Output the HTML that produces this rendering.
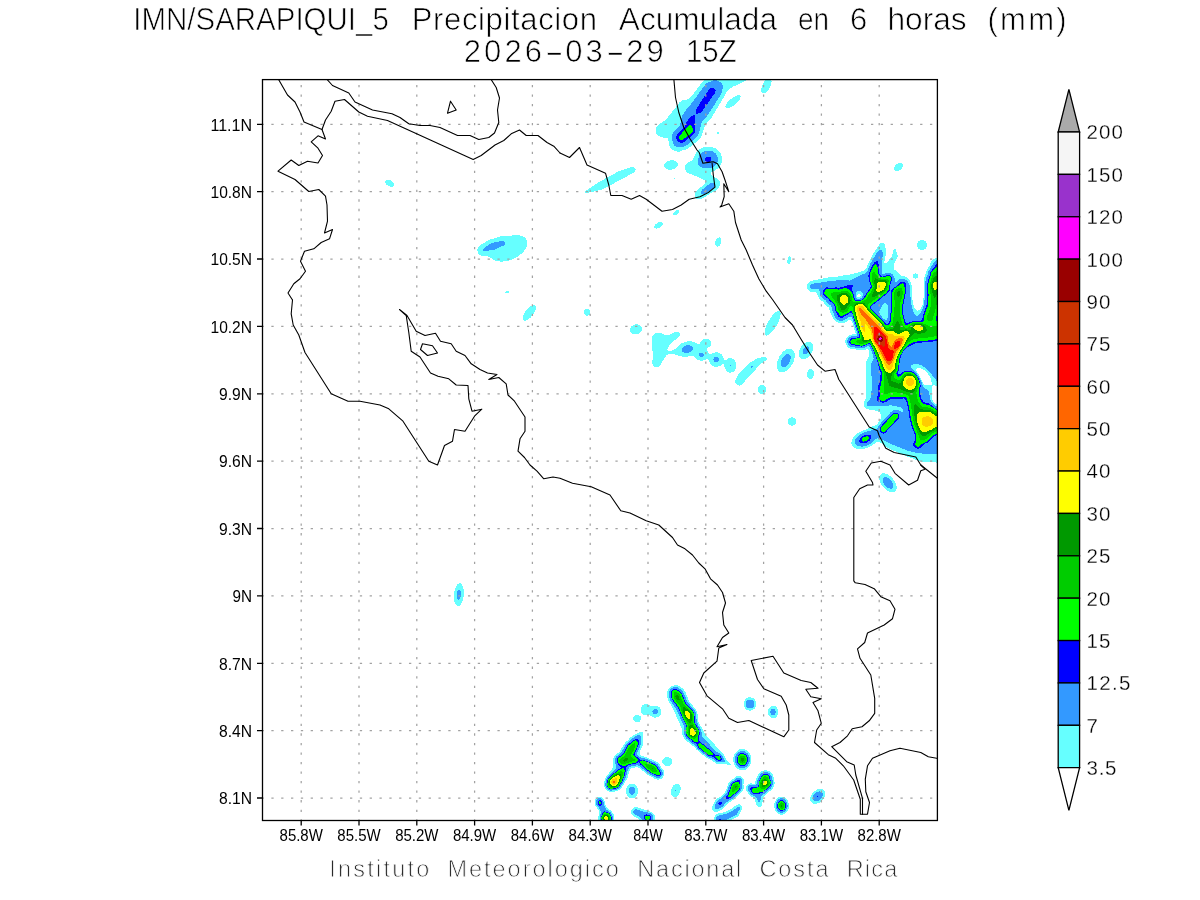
<!DOCTYPE html>
<html lang="es"><head><meta charset="utf-8"><title>IMN/SARAPIQUI_5 Precipitacion Acumulada en 6 horas (mm)</title>
<style>html,body{margin:0;padding:0;background:#fff}svg{display:block}text{font-family:"Liberation Sans",sans-serif;fill:#000}text{stroke:#fff;stroke-linejoin:round}.t{font-size:31px;stroke-width:.7px}.f{font-size:23.5px;fill:#2a2a2a;stroke-width:.8px}.a{font-size:16px;stroke:none}.c{font-size:20.5px;stroke-width:.3px}.g{stroke:#a2a2a2;stroke-width:1.25;fill:none}.gv{stroke-dasharray:2.3 7.236}.gh{stroke-dasharray:2.3 7.53}.k{stroke:#000;stroke-width:1.3;fill:none}.m{stroke:#000;stroke-width:1.1;fill:none;stroke-linejoin:round;stroke-linecap:round}</style></head><body>
<svg width="1200" height="900" viewBox="0 0 1200 900">
<rect width="1200" height="900" fill="#fff"/>
<defs><clipPath id="cp"><rect x="262.5" y="79.6" width="674.9" height="740.9"/></clipPath></defs>
<g clip-path="url(#cp)" shape-rendering="crispEdges">
<path fill="#66ffff" fill-rule="evenodd" d="M745.6 76 746.1 77 746.4 78 746.3 79 746 80 745 81.2 743.6 82 733 86.6 729 89.3 727 91.1 726 92.8 724 97 711.3 118 706.9 123 704.5 127 701.8 135 700.3 138 698 140.5 688 148.5 686 149.5 683 150.3 680 151.5 677 151.6 674 150.8 672.7 150 671.5 149 669.9 147 668.8 144 668.4 140 668 139 667 138 666 137.7 662 137.4 660 136.8 658 135.6 656.5 134 655.7 132 655.6 130 656.1 128 657.4 126 659 124.5 664.1 121 666.3 119 669.7 115 679.9 102 681 101.1 683 100.1 687 99.5 688 99.2 690 97.8 693 94.3 702 82.2 703.2 81 705 79.6 708.6 78 711 76.6 714 75.7 716 75.7 719 76.3 721 77.2 724 79.1 726 79.6 728 79.3 742 74.7 743 74.6 744 74.9ZM770 78.3 771 79 771.4 80 771.6 81 771.3 84 770.2 87 768.3 90 766 92.3 764 93.2 762.7 93 762 92.5 761.6 92 761.2 90 761.6 87 762.8 84 764 82 766 79.7 768 78.4 769 78.1ZM740 95.2 740.6 96 740.7 97 739.9 99 738.6 101 736 103.7 733 106 730 107.7 728 108.3 727 108.4 725.9 108 725.4 107 725.5 106 725.8 105 727.8 102 730 99.7 733 97.4 736 95.7 738 95.1 739 95ZM718 131.8 719 132.6 719.2 133 719 134.1 718 134.7 717 134.1 716.8 133 717 132.6ZM712 147.1 714 147.7 716 148.7 718.9 151 720 152.4 721 154 722 157 722.3 159 721.9 162 721.3 164 720.1 166 718.4 168 717 169.2 715 170.4 711.9 172 710.8 173 711 174 713 176.2 714.1 177 717 178.3 719.1 180 719.8 181 720.2 182 720.3 183 720.1 185 719.8 186 719 187.2 716.3 190 715 190.9 711 193.1 701.5 199 700 199.5 698 199.3 697 198.9 696 198.2 695.1 197 694.5 195 694.9 193 695.4 192 696.3 191 704.5 184 705.3 183 705.7 182 705.4 181 703 179.5 698 177 690 173.9 687 172.3 685.8 171 684.8 169 684.7 167 684.9 166 686 164.1 687 163.2 691 161.1 692.3 160 693.6 158 695 155 696.1 153 697.6 151 700 149 703 147.5 706 146.8 709 146.6ZM664.1 165 664.4 164 665 163.1 666.1 162 668 160.9 671 160.2 673 160.2 675.5 161 677 162.2 677.5 163 677.8 164 677.8 165 677.5 166 676.8 167 675.8 168 674 169.1 671 169.8 668 169.6 666 168.8 665 168 664.4 167 664.1 166ZM902 163.1 902.7 164 902.9 165 902.8 166 902 167.9 901.1 169 900 170 898 171.1 896 171.3 895 171 894.1 170 893.9 169 894 168 894.9 166 895.7 165 897 163.9 899 162.9 901 162.7ZM635 168 635.5 169 635.6 170 635 171.4 634 172.3 622 179.1 602 189.5 601 189.9 587.3 193 585 193.3 584.6 193 584.5 192 585.6 191 598 182.6 618 171.6 632 166.9 633 166.8 634 167.1ZM673.2 178 674 177.8 675.1 178 675 178.3 674 179ZM385.1 181 386 180 387 179.7 389 179.8 391 180.7 392.7 182 393.5 183 394 184 394.1 185 393.6 186 393 186.5 392 186.8 391 186.8 389 186.3 388 185.8 386 184.2 385.2 183 384.9 182ZM679 210.2 679.3 211 679.1 212 678.5 213 677.5 214 676 215 675 215.4 674 215.4 673.4 215 673.2 214 673.6 213 675 211.3 677 210.1 678 209.9ZM662.6 223 662.7 224 662.4 225 661.7 226 660 227.5 659 228 657 228.6 656 228.6 655 228.4 654.5 228 654 227 654.2 226 655 224.8 657 223.1 659 222.2 660 222 661 222 662 222.4ZM527.2 241 527.4 242 527.5 244 526.7 247 524.9 250 522.3 253 519 255.7 515 258.1 510.5 260 506 261.2 501 261.7 497 261.2 493.7 260 492.2 259 490 257.1 489 256.7 487 256.4 484 256.5 482 256.1 480 255.1 479 254.2 478.1 253 477.4 251 477.5 249 477.7 248 479 246 480.1 245 490 239.6 502 235.9 504 235.7 509 235.9 513 235.3 516 235.1 520 235.5 523 236.5 525 237.8 526.2 239ZM720 237.6 721 238.6 721.4 240 721.5 241 721.1 243 720 245 719 246 718 246.5 717 246.5 716 246.1 715.3 245 715 243 715.4 241 716.6 239 717.6 238 719 237.4ZM921 240 923 240 925 240.9 926.1 242 927 244 927 246 926.1 248 925 249.1 923 250 921 250 919 249.1 917.9 248 917 246 917 244 917.9 242 919 240.9ZM881 243.1 882 243 883 243.1 884 243.6 885 244.8 885.4 246 885.9 254 884.2 262 884.3 263 885 263.7 886 263.1 887 262.2 891.7 257 892.4 255 892.9 251 893.3 250 894 249.1 895 248.9 896 249.9 897.5 255 897.7 256 897.6 257 895.5 261 894.2 264 893.6 266 893.5 268 894 269.1 897 271.8 900 275 901 275.5 905 276.6 907 277.7 908.6 279 909.9 281 911.6 285 911.9 286 912.3 298 912.6 301 913.1 304 914 306.8 915 308.6 916 309.8 917 310.5 918 310.7 919 310.3 920 309.5 921 308.2 922.4 305 923.1 302 923.6 297 923.8 293 923.7 284 924.1 278 925.3 275 926.3 271 930 264.7 931.1 262 932.7 260 934 259 936 258.1 938 257.9 940 258.1 942 259 944 260.7 945 262.3 945 304.7 944.3 312 944.3 313 944.6 314 945 314.5 945 439 944.6 440 944.6 441 945 443.5 945 460.7 944 461.5 942 462.4 941 462.6 939 462.6 923 462 921 461.6 904 455.2 891 449.5 886 447.1 882 443.5 881 442.9 879 442 878 441.9 877 442 876 442.5 872 445.4 870 446.5 866 448.2 863 448.9 859 449.2 856 448.6 854 447.7 853 447 852.2 446 851.4 444 851.3 443 851.6 441 852.4 439 853 438 855.6 435 858 433.1 861 431.3 863 430.4 868 428.7 872 426.5 876 425.1 877 424.2 878.9 422 880.2 420 881.1 418 881.3 417 881.1 415 880.3 413 879.4 412 877.2 411 872 409.8 869 409.5 867 409 866 408.5 865 407.6 864 406 863.6 405 863.6 403 864.3 401 866.2 398 866.4 397 866.3 385 865.8 374 865.8 365 866.1 363 866.6 361 869.1 356 869.3 354 868.8 351 868 349.1 867 349 865 349.9 863 350.3 862 350.3 851 348.8 849 347.9 847.7 347 846.2 345 845.5 343 845.4 341 845.6 340 846.4 338 848 336.1 850 334.9 851 334.6 855.5 334 855.5 333 855 331 852 321.9 851 320 850 319.7 848 320.4 847 321.3 845 322.4 842 323.1 839 322.9 838 322.6 836 321.5 834.3 320 832.9 318 832 315.7 830.1 312 829 307.8 827 306.3 825.6 305 823.4 302 821 300.4 819.6 299 818.3 297 816.8 293 816 292.3 815 292.1 812 292 810 291.4 808.3 290 807.2 288 807 286 807.5 284 808.1 283 809 282 811 280.9 829 277.4 836 276.8 844 275.4 849 274.8 856.2 273 865 270.1 866 268.8 868.3 263 874.8 251 879.6 244ZM917 368.2 916.2 369 916.2 370 916.6 371 919.6 376 923 382.9 924 384.2 925 385 927 385.5 929 385.4 931.6 385 931.9 384 931.8 383 930.8 379 929.5 376 927.3 373 925 370.8 922 368.9 919 368 918 367.9ZM933 385.1 932.2 386 931.8 395 932.2 399 932.9 401 934.5 403 936 403.9 937 404.1 938 404 939.2 403 939.8 402 940.3 400 940.4 396 939.8 392 938.7 389 938 387.7 937 386.5 936 385.8 935 385.3ZM860 294.3 859 293.9 858 294.2 857.4 295 857.2 296 857.6 297 858 297.3 859 297.5 860 297 860.5 296 860.5 295ZM790 256.1 790.6 257 790.8 258 790.9 259 790.7 261 790 263 789 264.3 788 264.3 787.4 263 787.3 262 787.6 259 788 257.8 789 256.4ZM913.1 275 913.8 274 915 273.4 916 273.4 917 273.7 918.2 275 918.4 276 918.1 277 917.2 278 916 278.5 915 278.5 914 278.2 912.9 277 912.8 276ZM505 292 506 291.2 507 291 508.1 291 509 291.4 509.7 292 509 293 507 293.3 505.7 293ZM757.9 296 758 295.8 759 296 758 296.5ZM535 305.2 535.7 306 536 306.9 535.8 309 534.7 312 533 314.7 531 317.1 528 319.6 526 320.6 525 320.9 524 320.8 523 320 522.7 319 522.8 317 523.9 314 525.8 311 528 308.4 531 306 533 305.1 534 305ZM586 309 587 308.8 588.2 309 589.7 310 590.3 311 590.5 312 590.4 313 590.1 314 589.2 315 588 315.6 587 315.7 586 315.5 585 315 584.1 314 583.7 313 583.6 312 584 310.7 585 309.5ZM779 311 780 311.6 780.5 313 780.5 315 779.6 319 777.5 324 774.4 329 771 333 769 334.7 768 335.3 767 335.6 766 335.6 765 335 764.6 334 764.5 333 764.6 331 765.7 327 767.9 322 771 317.2 774 313.7 776 312 777 311.4 778 311.1ZM631 327 632 325.9 634 324.7 636 324.2 638 324.4 639.6 325 641 326.2 641.8 328 641.8 330 640.8 332 639 333.5 637 334.3 635 334.4 633 334 631.5 333 630.7 332 630.2 331 630.1 329ZM652.5 336 653.1 335 654 334 655.6 333 657 332.6 658 332.5 660 332.8 665 335.1 667 335.4 670 334.4 676 331.6 677 331.5 678 331.8 679 332.5 679.8 334 679.8 335 679.5 336 679 336.8 671.3 343 670 344.3 668.8 346 667.5 349 667.4 350 668 350.5 669 350.8 672 350.6 674 349.8 676.3 348 678.1 346 680 344.4 682 343.1 685 342 687 341.5 689 341.3 692 341.4 695 342.3 699 344.6 700 343.6 700.6 342 701.3 341 703 339.5 705 338.8 707 338.8 708 339 709.7 340 710.6 341 711.1 342 711.3 343 711 344.9 710.4 346 709.3 347 707.6 348 706.5 349 706.8 350 708.1 352 709 353.9 710 354.6 713 353 715 352.4 717 352.3 719 352.8 721 354 722 355 723.2 357 724 360.1 725 360.8 727 359.2 729 358.2 731 358 733 358.7 734 359.5 735 360.6 736.1 363 736.4 366 736 368 735 370 734 371.2 733 371.9 731 372.6 729 372.5 727 371.4 725.8 370 724.8 368 723.9 364 723 363.6 721.4 365 720 365.9 718 366.7 716 366.9 714 366.6 712 365.6 710.4 364 709.3 362 708.7 360 708 358.7 707 358.9 705 359.9 703 360.5 700 360.6 698 360 696.3 359 695.2 358 694 356.5 693 355.7 692 355.7 687 356.7 684 356.8 681 356.3 674 354.2 672 354 669 354.2 666.8 355 664 359 659.7 366 659 366.6 658 367.1 656 367.3 655 367 654 366.4 653 365.2 652.5 364 652.4 363 652.7 355 651.9 339 652 337.4ZM736 335.5 736 334.9 736.9 335ZM811 342.4 812.4 344 812.8 345 813.2 347 813 349 812.6 351 811.1 354 809 356.7 808 357.5 806 358.7 804 359.3 803 359.3 802 359.1 801 358.6 799.6 357 799.1 356 798.8 354 798.9 352 799.4 350 800.9 347 803 344.3 804 343.5 806 342.3 808 341.7 809 341.7 810 341.9ZM792 349.1 793.1 350 794 351.3 794.6 353 794.8 355 794.7 357 794.4 359 793.4 362 792.4 364 791.2 366 789.7 368 788 369.7 786 371.2 785 371.8 783 372.4 781 372.4 780 372.1 779 371.5 777.8 370 777 368 776.8 366 776.9 364 777.5 361 779.2 357 780.4 355 782 352.9 784 350.9 786 349.5 788 348.7 789 348.5 791 348.7ZM766 357.1 766.8 358 766.9 359 766.3 360 760.5 364 755.1 370 750.1 375 742 384.6 741 385.3 740 385.5 739 385.6 737.2 385 736 384 735.4 383 735.1 382 735.1 381 735.3 380 737.8 375 738.5 374 743.3 369 749 363.3 757 358.6 758 358.2 765 356.8ZM811 368.8 812 369.1 813.1 370 814 372 814.1 374 813.6 376 813 377.3 812 378.4 811 379 810 379.2 809 378.9 807.9 378 807 376 806.9 374 807.4 372 808 370.7 809 369.6 810 369ZM761 385 762 384.9 763 385.1 764 385.5 765 386.3 766 388 766.1 390 765.9 391 765.4 392 764.4 393 763 393.8 762 393.9 761 393.8 759.3 393 758.4 392 757.9 391 757.7 390 757.9 388 758.3 387 759.1 386 760 385.4ZM790 417.8 791 417.4 792 417.3 793 417.4 794 417.8 795 418.6 795.9 420 796.2 421 796.2 422 795.9 423 795 424.4 794 425.2 793 425.6 792 425.7 791 425.6 790 425.2 789 424.4 788.1 423 787.8 422 787.8 421 788.1 420 789 418.6ZM881 474 882 473.5 884 473.3 885 473.5 887 474.2 890 476 893.1 479 894.5 481 895.6 483 896.6 486 896.8 488 896.7 489 896 490.8 895 491.8 894 492.3 892 492.5 891 492.4 889 491.7 887 490.6 885 489 882.3 486 880.5 483 879.7 481 879.3 479 879.3 477 879.5 476 880 475ZM460 583.3 461 583.7 462 584.7 463.1 587 463.6 589 463.9 591 463.9 595 463.2 599 462.6 601 461.7 603 461 604.1 460 605.3 459 605.9 458 606.1 457 605.8 456 605 455 603.4 454.5 602 453.8 598 453.9 594 454.6 590 456 586.4 457 584.8 458 583.9 459 583.3ZM670.4 687 672 686 674 685.4 677 685.4 678 685.6 680 686.5 683 688.9 684.8 691 685.8 693 688.9 701 692 704.9 695.6 709 696.8 711 697.4 713 698 718.7 698.6 722 700 724.9 702.5 729 704 732.5 705.9 735 720.4 751 723.4 754 724.1 755 726.5 760 727.4 761 730.9 764 731.2 765 731 765.2 730 765.2 724 763.9 718 764.2 716 763.6 711.2 760 708 758.6 705 756.5 697 750.1 693.4 746 691 744.8 690 744 688.1 742 686 740.5 684.5 739 683.3 737 682.6 735 682.2 733 682 730 681 726.7 673.6 710 671 705 668.5 701 667.4 698 667.1 694 667.5 691 668.5 689ZM748 697.6 749 697.4 751 697.4 753 698.1 754 698.8 755 699.8 756.1 702 756.4 703 756.4 705 755.7 707 755.1 708 754 709.2 752 710.4 751 710.6 749 710.6 747 709.9 746 709.2 745 708.2 743.9 706 743.6 705 743.6 703 744.3 701 744.9 700 746 698.8ZM641.3 707 642 705.9 643 705 644 704.4 646 704 648 704.4 651 705.9 652 706 655 705.5 657 705.8 658 706.2 659.2 707 660.1 708 660.7 709 661.3 711 661.2 713 660.3 715 659.4 716 658 717 656 717.6 654 717.5 653 717.2 650 715.4 649 715.1 646 715.2 644 714.9 642.4 714 641.6 713 641.1 712 640.8 711 640.7 709ZM773 705.6 774 705.7 775 706.1 776.2 707 777.6 709 777.9 710 778.1 712 777.9 714 777.6 715 776.2 717 775 717.9 774 718.3 773 718.4 772 718.3 771 717.8 770 717.1 769.1 716 768.2 714 768 712 768.2 710 769.1 708 770 706.9 771 706.2 772 705.7ZM636 715.1 638 714.9 639 715.2 640.2 716 640.9 717 641.1 718 641.1 719 640.8 720 640 721.2 639 721.9 638 722.3 636 722.3 635 721.9 633.9 721 633.3 720 633.1 719 633.1 718 633.5 717 634.3 716ZM642 731.9 643 733 643.2 734 642.9 737 643.4 740 643.3 744 642.7 746 641 749.2 639.5 753 639.5 754 640.1 755 641 755.8 644 756.3 656 761.4 658.4 763 659.3 764 661 766.9 663.4 770 663.9 771 664.3 773 664.3 774 663.7 776 662.2 778 661 778.9 659 779.6 657 779.6 655 778.9 651.8 777 649 775.8 639.4 768 638 767.3 637 767.2 632.2 768 631 768.6 630 769.9 629 771.9 627.4 778 622.7 786 621.3 788 620.4 789 618 790.7 615 791.6 611 792 609 791.6 608 791.2 606 789.6 605.5 789 604.4 787 604.1 786 604 784 604.4 781 604.9 779 605.9 777 609.9 772 611.9 769 613 766.9 613.5 765 613.2 762 613.2 760 613.6 758 614.1 757 615.5 755 619 752.2 620 751.1 623.5 745 624.9 743 628.1 740 630 737.8 635 734.4 637 733.6 640 731.6 641 731.5ZM742 748.9 744 749.1 746 749.8 747 750.4 748.8 752 749.5 753 750.6 755 751.2 757 751.5 759 751.4 761 750.7 764 749.7 766 748 768 746 769.4 745 769.8 743 770.3 741 770.2 739 769.5 737 768.2 736 767.2 735.1 766 734.1 764 733.5 762 733.3 760 733.4 758 733.8 756 734.7 754 736 752 737 751 739 749.7 740 749.3ZM663.2 759 664.3 758 666 757.2 668 757.1 670 757.8 671.5 759 672.1 760 672.4 761 672.4 762 672.1 763 671 764.7 670 765.4 669 765.9 667 766.1 665 765.6 664 765 663 764 662.5 763 662.3 762 662.3 761 662.6 760ZM767 770.4 769 771.1 770.4 772 771.5 773 772.9 775 773.6 777 773.8 779 774.4 781 774.6 783 774.4 785 773.7 787 772 789.6 770 791.2 768 792.3 766 794.5 764 796.1 763.3 797 763.1 798 762.1 805 761.5 806 761 806.4 760 806.9 759 806.9 758 806.6 757.2 806 756.5 805 755 799.8 754 798 751 796.5 750 795.7 749 794.5 748.1 793 747.2 792 746.5 791 746 789 746.2 787 746.7 786 747.5 785 749 783.9 751 783.3 754 783.8 755 783.3 755.2 783 755.3 782 756.1 780 756.6 778 757.8 775 759 773.2 760 772.2 761 771.5 763 770.6 765 770.3ZM742 777.2 742.8 778 743.5 779 744 781 744 782 743.4 784 743.8 786 743.7 788 743 790 741.7 792 739.4 794 734 799.4 727 804 724.8 807 723 808.7 719 810.9 718 811.7 717 812.1 716 812.2 715 812 714 811.6 713.2 811 712.4 810 712 809 711.9 808 712 807 714.9 801 715.6 800 716.7 799 721 796.2 725.2 792 727 787.6 728.2 784 729.2 782 731 780.2 734 778.6 735.6 777 737 776.2 738 776 740 776.2 741 776.5ZM632 783.6 634 784 635 784.6 636.4 786 637.5 788 637.8 789 638 791 637.8 793 637.5 794 636.3 796 635 797.3 634 797.9 632 798.3 630 797.9 629 797.3 627.7 796 626.5 794 626.2 793 626 791 626.2 789 626.5 788 627.6 786 629 784.6 630 784ZM678 783.8 679 784.4 679.6 785 680.2 786 680.5 787 680.7 789 680.1 792 679 794.2 678 795.4 677 796.3 676 796.8 675 797.1 674 797.1 673 796.8 672 796 671 794 670.7 792 671.3 789 672.2 787 674 784.9 675 784.2 676 783.8 677 783.7ZM823.6 790 824.4 791 824.9 792 825.2 794 824.5 797 823.4 799 822.6 800 820 802.3 817 803.6 815 803.9 814 803.8 813 803.5 812 802.9 811.2 802 810.6 801 810.3 800 810.3 798 810.5 797 811.3 795 813 792.7 815 790.9 817 789.7 818 789.3 820 789 822 789.2ZM599 796.7 600 796.6 602 797.3 603 798.1 603.8 799 604.7 801 605.5 805 607 807.8 608 808.9 611 810.8 612 811.9 612.8 813 613.8 815 614.2 817 614.3 819 614 821 613.3 823 612 824.9 611 825.9 610 826.7 608 827.6 607 827.7 605 827.7 604 827.4 602 826.3 601 825.5 599.8 824 599.3 823 598.5 821 598.2 818 598.5 816 599.2 813 599.2 812 598 809.2 595.4 806 594.7 804 594.6 803 594.8 801 595.7 799 597 797.6ZM781 796.5 783 796.7 785 797.5 786.6 799 787.4 800 788.4 802 788.9 805 788.9 807 788.4 809 787 811.7 785 813.7 783 814.5 782 814.7 780 814.5 778 813.5 776.4 812 775.7 811 774.8 809 774.2 806 774.5 803 775.3 801 776 799.7 777 798.5 778 797.7 780 796.7ZM741.9 806 742.3 807 742.5 808 742.3 809 739 815 738.3 816 737 817 729 821 723 824.5 721 825.3 719 825.3 717 824.6 716 823.9 714.5 822 714.2 821 714 819 714.4 817 715.8 815 717 814 718 813.5 725 812 732 808.5 736.4 805 738 804.3 739 804.2 740 804.5 741 805ZM631.5 810 632.1 809 633.2 808 634 807.5 636 807.1 637 807.2 645.4 810 648 810.6 651 811.8 652.9 813 653.9 814 654.6 815 655 816 655.4 818 655.3 819 654.6 821 653.9 822 652.9 823 652 823.6 650 824.5 649 824.6 647 824.6 646 824.5 644 823.7 643 823 640 819.9 639 819.2 633 815.9 632.1 815 631.5 814 631.2 813 631.2 811Z"/>
<path fill="#3399ff" fill-rule="evenodd" d="M719 81.2 720.2 82 722.1 84 722.7 85 723 86 723.1 87 722.9 88 722.4 89 721.5 93 720.6 95 707 116.3 703 120.5 701 124.4 699 133 698.2 135 697.6 136 695.7 138 687 145.1 685 146.3 683 146.9 678 147.1 676 146.7 675 146.1 674 145 673.5 144 673 142 672.6 141 672 139 672 136 672.5 134 674 131.6 679.5 126 680 125.2 681.7 117 682.7 115 686.7 109 692 102.8 704.1 86 706 83.8 708 82.5 711 81.6 713 80.6 715 80.1 717 80.3ZM703 151.9 705 151 707 150.6 709 150.5 712 151.2 713.7 152 715.1 153 716 154 717.3 156 717.6 157 718 159 717.8 161 717.5 162 716.4 164 715.6 165 714 166.4 712 167.4 710 168 708 168.3 706 168.4 703.5 168 701 167.1 699.3 166 698.4 165 697.9 163 697.9 161 698.1 159 698.7 157 699.7 155 701 153.4ZM715 183.6 715.2 184 715.3 185 714.6 187 713.7 188 705 193.5 702 194.2 700.8 194 700.4 193 700.7 192 702 189.9 706 186.8 710 183.3 711 182.6 712 182.5 714 182.8ZM505 243 505 244 504 245.3 494 249.9 486 250.9 484 250.8 483 250.4 482.8 250 483.3 249 485.5 247 491 243.2 492 242.8 498 241.7 503 241 504 241.5 504.6 242ZM811 284.3 812 283.8 830 281.1 844 279.8 847 280.1 850 280.7 854 278.2 863 274.2 865 273.6 866 273 867 271.7 868 269.5 870.1 264 876 254.2 878 251.4 880 250.1 881 250 882 250.9 882.9 253 883 254 881.6 262 881.5 266 881.7 273 883 273.9 884 273.8 886 272.8 888 272.5 890 272.9 892 273.9 893.2 275 894.3 277 894.7 279 894.8 281 895 282.1 896 282 899 279.6 900 279.1 902 278.7 904 278.9 905 279.2 906.3 280 907.4 281 908.1 282 910.1 286 910.1 291 910.7 300 911.5 305 913.3 312 914 313.5 916 315.6 917 316 918 315.8 919 315.1 921 312.5 923 308 924 305 924.8 297 925 294 925.1 285 925.7 279 926 278 927.4 275 928.2 272 932.3 265 933.2 263 933.9 262 935 261.1 937 260.3 939 260.3 940.9 261 942.1 262 942.8 263 943.5 265 943.4 267 943.9 272 944.3 274 945 282.6 945 288.1 943.8 295 942.2 308 941.3 313 941.1 315 941.2 316 941.7 317 943 318 945 319 945 344.2 944.3 345 944.1 346 944.5 347 945 347.6 945 401.4 944 398.8 942.4 391 941.4 388 940.6 386 938.7 383 935 378.9 930.6 373 928 370.1 926 368.3 923 366.2 920 364.8 917 364 915 363.9 913 364.3 911.7 365 911 366 910.9 367 911.4 368 916 372.5 918.5 376 920.6 380 923 386.4 924 387.9 925 388.7 927.5 390 928.5 391 929 391.8 929.3 393 929.7 397 930.1 399 930.9 401 932.3 403 934.5 405 936 405.8 937 406.2 939 406.4 944 405.5 945 406 945 434.7 942.1 436 940.5 437 939.7 438 939.4 439 939.8 441 942 446 942.4 448 942.2 450 941.8 451 941 452.2 940 453 939 453.4 935 453.6 923 453.6 918 453.1 915 452.5 908 450.7 900 447.7 888 442.7 882 439.6 880 438.9 878 438.4 877 438.5 876 438.9 872 442.5 869.9 444 867 445.4 865 446.1 862 446.6 859 446.4 857 445.6 856.2 445 855.4 444 855 443 854.9 442 855.2 440 856.3 438 858.1 436 860 434.5 863 432.8 866 431.8 870 430.9 874 429.3 876 428.9 877 428.3 879 425.2 891 411.9 893 410.4 895 409.7 897 409.7 899 410.3 902 412.1 903 411.7 903.2 411 903 409.4 902.1 408 901 407.4 899.8 407 892 405.5 890 405.4 884 406.1 879 405.9 875 406.2 869 406.3 868 406.1 867 405.3 866.5 404 866.7 403 867.5 402 869.6 400 870.3 399 871.1 397 871.3 395 871.8 385 871.2 365 871.5 363 873.3 360 873.6 359 873.6 358 873.1 356 870.7 349 870 347.6 869 346.3 868 346.2 864 348.1 862 348.4 851 346.9 849.3 346 848.3 345 847.3 343 847.2 341 847.8 339 848.6 338 849.8 337 851 336.4 857 335.6 857.6 335 854 323.5 852 317.9 851 316.5 850 316.6 847 318 846 319 845 319.8 844 320.3 842 320.8 840 320.7 839 320.4 837 319.3 836 318.4 835.1 317 834.6 316 834.1 314 832.5 311 831.9 309 831.7 307 831.3 306 828 303.5 826 301 825 300 823 298.8 821.2 297 820.1 295 819.7 293 819.5 291 819 289.6 818 289 817 288.9 812 288.9 810.6 288 810.1 287 810 286 810.4 285ZM885 303 884 303.3 882.4 305 879.3 311 879.1 312 879.8 314 881.9 317 884 319 885 319.7 886 320 887 319.2 887.8 317 888.3 312 888.3 309 888 306.5 887 304 886 303.2ZM858 291.2 857 291.7 856 293 855.7 294 855.6 296 855.8 297 856.3 298 857 298.6 858 298.9 859 298.9 860 298.6 861 298.1 862 297 862.8 295 862.9 294 862.6 293 862 292.1 861 291.5 860 291.1ZM681.7 350 681.9 349 682.4 348 683.4 347 685 346 687 345.3 689 345.2 691 345.7 692 346.3 692.6 347 692.9 348 692.8 349 692.4 350 691.5 351 690 352 688 352.7 686 352.9 684 352.6 682.8 352 682 351ZM808 346.6 809 347.5 809.3 349 809 350.9 808.5 352 807 353.7 806 354.3 805 354.6 804 354.4 803 353.5 802.7 352 803 350.1 803.5 349 805 347.3 806 346.7 807 346.4ZM698.7 354 699.5 353 700 352.7 701 352.5 702 352.5 703.1 353 703.9 354 704 355 703.4 356 703 356.3 702 356.8 701 356.8 700 356.5 699.2 356 698.7 355ZM789 354.1 790.1 355 790.7 357 790.6 359 789.7 362 788 364.6 786 366.4 784 367.1 782.8 367 782 366.5 781.5 366 781 365 780.9 364 780.9 362 781.9 359 783.1 357 785 355.1 787 354 788 353.9ZM714.9 357 716 356.7 717 356.8 718 357.3 718.7 358 719.1 359 719.2 360 718.8 361 718 362 717 362.4 716 362.5 714.6 362 713.7 361 713.4 360 713.4 359 713.8 358ZM730 364.6 731 364.7 731.1 365 731 366 730 366.2 729.9 366 729.7 365ZM752.5 366 752.7 367 752 367.6 751 368.1 750.7 368 750.8 367 751.6 366 752 365.8ZM742 376.7 742.7 377 742 378 741.6 377ZM883.3 478 884 477.4 885 477.1 886 477.2 888 477.9 889 478.6 890.6 480 892.1 482 893 484 893.3 486 893.2 487 892.6 488 892 488.5 891 488.7 889 488.4 887 487.3 885.5 486 884 484 883 482 882.7 480 882.8 479ZM459 589.6 460 589.9 460.6 591 461.1 593 461.1 595 460.6 597 460 598.6 459 599.6 458 599.6 457 598 456.7 596 456.7 594 457 592.6 458 590.4ZM672 688.1 673 687.5 675 687.1 677 687.3 678 687.6 679 688.2 682 690.7 683.1 692 684.2 694 687.4 702 694.4 710 695.5 712 695.9 714 696.8 722 699 726.6 700.5 729 701.5 732 702 735.6 702.6 737 706.2 741 716 751.3 718.5 753 721 754.2 721.9 755 722.6 756 724.7 760 725 761 724.5 762 723 762.4 718 762.4 716 761.5 712.9 759 712 758.5 708 757.1 698 749.2 696.9 748 695 745.1 691.3 743 690.3 742 689.6 741 687 739.1 685.9 738 684.7 736 684.1 734 684 728.2 683.8 726 676.2 709 670.7 701 670.2 700 669.5 698 669 694 669.2 692 670.1 690 670.8 689ZM748 700 749 699.6 750 699.5 751 699.6 752 700 753 700.7 753.9 702 754.2 703 754.2 705 753.9 706 753.2 707 752 708 751 708.4 750 708.5 749 708.4 748 708 747 707.3 746.1 706 745.8 705 745.8 703 746.1 702 746.8 701ZM654 709.1 655 708.8 656 708.9 657 709.4 657.6 710 658.1 711 658.1 712 657.7 713 656.7 714 656 714.3 655 714.4 653.9 714 652.8 713 652.4 712 652.5 711 652.9 710ZM773 708.5 774 708.7 775 709.5 775.7 711 775.9 712 775.7 713 775 714.5 774 715.3 773 715.5 772 715.3 771 714.4 770.4 713 770.3 712 770.4 711 771 709.6 772 708.7ZM640 734.8 640.8 736 641.3 739 640.8 744 640.3 746 639 748.5 637.2 753 637.1 754 637.7 755 640 757 641 757.5 644 757.9 655 762.6 657 763.9 658 765 659 766.7 662 770.8 662.6 772 662.7 774 662.5 775 662 775.9 661 777 660 777.7 658 778.1 657 778 656 777.7 649 773.9 640.5 767 638 765.3 637 765.3 635 765.9 631 766.5 629.7 767 628.8 768 627.5 771 626.1 777 622.3 784 620.4 787 619.5 788 617 789.6 612 790.6 610 790.5 608 789.6 606.4 788 605.5 786 605.4 784 606.1 780 606.4 779 607.6 777 614.4 770 616 768 616.5 767 616.4 766 615.2 763 614.9 761 615.2 759 616 757.1 617 755.9 621 752.9 622 751.4 625.5 745 627 743.3 628.6 742 631 739.5 636 736 639 734.8ZM742 750.9 744 751.1 745 751.5 747.2 753 748 754 749.1 756 749.5 757 749.8 759 749.5 762 748.8 764 748 765.2 747 766.4 746 767.2 745 767.7 743 768.3 742 768.3 740 767.8 739 767.3 737.4 766 736.6 765 735.6 763 735 760 735.3 757 736.1 755 736.8 754 738 752.6 739 751.9 740 751.4ZM767 772.2 768.9 773 770 773.9 771.5 776 771.8 777 772 779 772.8 781 772.9 782 772.7 785 771.9 787 770.2 789 767.3 791 766.1 792 765 793.3 762 795.4 761.2 797 760 802.1 759 802.8 758 801.6 756.5 798 755.9 797 755 796.4 752 795.2 750.6 794 749.4 792 748.4 791 747.8 790 747.6 789 747.6 788 748 787 748.7 786 750 785.1 751 784.9 752 785 754 785.4 756 785 756.9 784 757 782 757.9 779 758.5 778 759.2 776 760.5 774 762 772.8 763 772.4 765 772ZM741 778.4 742 779.6 742.4 781 741.9 784 742.2 787 741.8 789 740.6 791 733 798.4 732 799.1 726 802.4 723.4 806 722.4 807 719 808.6 716 809.6 715 809.3 714.7 809 714.4 808 715.2 805 716.3 802 717 801 718 800.2 722 797.7 726.3 793 727 791.5 729.8 784 731 782.2 732 781.4 734.6 780 737 778 738 777.6 739 777.6 740 777.8ZM632 786.9 633 787.1 634.3 788 635 789.3 635.3 791 635 792.6 634.2 794 633 794.8 632 795 631 794.8 629.8 794 629 792.6 628.7 791 629 789.3 629.7 788 631 787.1ZM676 789.6 676.3 790 676.1 791 675.4 791 675.4 790ZM821.6 792 822.4 793 822.8 794 822.8 795 822.2 797 821 798.9 819 800.5 817 801.4 815 801.4 814 800.9 813 799.7 812.7 798 813.1 796 814.4 794 816 792.6 818 791.6 820 791.4ZM599 798.3 600 798.2 601 798.5 602 799.1 602.8 800 603.6 802 604 805.3 605.2 808 605.9 809 606.9 810 609 811.2 611 812.9 611.8 814 612.7 816 612.9 819 612.6 821 612.2 822 611 823.9 610 824.9 609 825.6 608 825.9 606 826.2 604 825.8 603 825.2 602 824.4 601 823.2 600 821 599.7 820 599.5 818 599.9 816 600.8 813 600.8 812 599.7 809 599.1 808 597 805.8 596.5 805 595.9 803 596.2 801 596.7 800 598 798.7ZM781 798.3 783 798.4 784 798.9 785.4 800 786.8 802 787.4 804 787.5 805 787.5 807 787.2 808 786 810.5 785 811.6 784 812.3 782 812.9 780 812.7 779 812.2 777.6 811 776.3 809 775.6 806 775.8 804 776 803 777 801 778 799.8 779 799 780 798.5ZM739.7 807 740.2 808 739.8 809 737 814 736 815 728 819 723 822.3 721 823.4 720 823.5 719 823.4 718 823 716.8 822 716.2 821 715.9 820 715.9 819 716.1 818 716.6 817 718 815.7 719 815.4 726 814 733 810.5 738 806.7 739 806.6ZM633.5 811 634.2 810 635 809.5 636 809.3 644 811.7 648 812.4 650 813.1 652 814.5 653.1 816 653.6 818 653.4 819 653.1 820 652 821.5 651 822.2 650 822.7 648 823 647 823 645 822.3 643.3 821 641 818 639 816.7 634.2 814 633.5 813 633.3 812Z"/>
<path fill="#0000ff" fill-rule="evenodd" d="M714 88.1 715 89 715.5 90 715.6 91 715.4 92 715 92.8 702 111.5 701 112.5 698 113.7 697 113.8 696 113.3 695.7 112 695.9 111 696.4 109 696.9 108 709 89.3 710 88.2 711 87.7 712 87.5 713 87.7ZM695 115.6 695.4 117 694.9 122 695.3 125 695.3 128 695.2 131 694.6 133 693.9 134 693 134.9 684 142 683 142.5 681 142.8 680 142.6 678.7 142 677.5 141 676.8 140 676.4 139 676.3 137 677 135 684.3 127 686 123.1 688.4 119 689 118.3 691 116.7 693 115.4 694 115.2ZM705.4 158 706 157.3 707 156.7 708 156.5 709 156.6 710 157 711 158 711.3 159 711.2 160 710.6 161 709.2 162 708 162.2 707 162.1 706 161.6 705.3 161 705 160.3 704.9 159ZM877 261 878 261.8 878.4 263 878.9 267 878.9 273 879.3 274 881 276 882 276.5 883 276.6 885 276.2 887 275.2 888 275 889 275 890 275.3 891 276 891.8 277 892.1 278 892.2 279 892.1 280 891.1 282 890.5 284 889.8 290 889.4 291 888.7 292 887 293.8 882.8 297 880 299.5 871.5 306 870.9 307 871 308 872.4 310 875 312.9 883.3 321 885 323.1 886 323.9 887 324.1 888 323.5 889 322.3 889.6 321 890.1 319 891 306 890.9 297 891.2 291 891.6 290 893.3 288 896 286.2 901 282 902 281.7 903 281.6 904 281.9 905 282.6 905.9 284 906.1 285 905.8 287 905.5 294 903.3 305 903.3 314 903.5 315 905 320.8 906 323 907 323.5 908 323.3 911 321.7 913 321.1 915 320.9 920 320.8 921 320.7 922 320.2 922.2 320 922.9 316 926.6 305 927.5 295 927.1 285 928.5 279 929.8 275 930.2 273 930.7 272 934 267.2 937 263.7 938 263.5 939 263.7 939.4 264 940.1 265 940.2 266 941 268.7 942 274 943.3 286 941.5 295 939.5 308 938 315 937.7 318 938 319.3 939 320.4 943 321.9 945 323.1 945 337.8 944 338.5 942 339.4 932 341.7 916 343 909.8 346 906 348.4 905 349.4 903 352.1 901 355.9 899.6 361 899.1 369 898.7 371 897.9 373 898.3 374 899 374.4 900 374.1 904 371.4 906 370.7 908 370.5 911 371.1 912 371.5 914 372.8 916 374.6 917.1 376 918.3 378 919.7 381 920.4 384 920.6 386 920.1 391 920.1 393 921 397.2 921.6 399 923 401.3 924 402.2 925 402.6 928 403.3 929 403.7 935 407.9 937 408.9 942 410.5 945 411.9 945 431.2 943 432.1 939 433.6 936.3 435 933.6 437 930.9 440 929 441.7 928 442.3 925 443.7 922.4 446 921 447.7 920 448.3 919 448.6 917 448.6 916 448.3 915 447.8 914.1 447 913.4 446 913.1 445 913.2 444 913.5 443 914.6 441 915.2 438 915.2 436 911.2 425 909.3 417 908.6 411 907.1 404 906 400.6 905 398.8 904 398.4 897 399 891 399.1 889 399.9 885.8 402 884 402.5 883 402.6 881 402.4 879 401.8 877.4 401 877 400.2 876.9 399 877.8 395 877.6 391 878.4 385 879.1 383 880.3 377 880.8 373 880.5 372 879.6 370 877.9 363 876.2 358 872.1 348 870 344.5 869 344 868 344.2 864 346.1 862 346.6 852 345 851 344.6 850.2 344 849.5 343 849.3 342 849.3 341 850 339.6 851 338.7 852 338.3 859 337.2 859.3 337 859.5 336 853.6 318 852.8 315 852 313.3 851 312.6 850 313 848 314.5 845 315.8 843.8 317 842 317.8 841 317.8 840 317.6 839 317.1 837.9 316 837.4 315 836.9 313 836 311.9 835 310 834.6 308 834.5 306 834.1 305 832.4 303 830 301.2 828.1 299 826 297.2 824 295.7 822.9 294 822.7 292 823.3 290 824 289 825 288.1 826 287.6 827 287.4 828 287.5 829 287.8 832 287.9 836 287.4 837 287.5 839 288.1 841 287.3 848.8 285 852 284.6 853.5 285 853.4 286 852 288 851.9 289 853.1 292 854 297 854.7 299 855.8 300 857 300.3 860 300.2 861 299.9 862 299.4 863 298.5 864.2 297 866.5 293 869.6 289 870.7 287 871.1 286 870.5 285 869.7 283 868.4 276 868.6 274 872.4 265 875 261.9 876 261.2ZM898 413.5 899 415 899.3 416 899.3 417 899 418.1 898 419.5 888.7 429 886 432.3 885 433.1 884 433.5 883 433.5 882 433.3 881 432.7 880.3 432 879.8 431 879.5 429 880 427.4 881 426.1 893 413.3 894 412.8 895 412.5 896 412.5 897 412.8ZM871.4 436 871.6 437 871.4 438 870.9 439 869.2 441 867 442.4 865 443.1 863 443.4 861 443 859.7 442 859.3 441 859.4 440 859.8 439 861 437.4 863 435.9 865.3 435 868 434.6 870.2 435ZM673 689.6 674 689.2 675 689 677 689.3 678 689.8 679.1 691 681 692.5 682.1 694 685.8 703 693 710.8 693.7 712 694.3 714 695.2 723 699.1 730 699.6 732 699.6 734 699.5 735 698.7 737 699 739 699.5 741 700 741.6 711.9 751 715 754.5 719 755.3 720.4 756 721.2 757 722 759 721.9 760 721 760.5 718 760.6 717 760.1 714 757.3 713 756.7 709 755.9 708 755.2 698.8 748 697.6 746 696.9 744 696 743.3 693 742 692 741.2 691 739.8 688.2 738 687 736.6 686.1 735 685.7 733 685.9 731 685.8 725 682.4 718 678.2 708 672.4 700 671.4 698 670.9 693 671.2 692 671.6 691ZM749.7 704 750 703.7 750.3 704 750 704.3ZM638 739.4 638.4 740 638.7 741 638.5 745 636 751 634.9 753 634.6 754 634.6 755 635.6 756 637.1 757 639 759 640 759.5 643 759.5 655 764.5 655.7 765 656.6 766 660.6 772 660.9 773 660.9 774 660.4 775 659 776.1 658 776.3 657 776.1 650 772.6 640 764.2 639 762.4 638 762.3 636 763.6 635 764 630 764.7 628.9 765 627.2 766 626.5 767 625.7 769 625.6 771 624.7 776 621.3 783 619.6 786 618.7 787 617 788.2 615 788.8 611 789.3 609 788.7 608.2 788 607.3 787 606.7 785 607.2 781 607.8 779 609.3 777 617 770.4 619.3 769 620.5 768 621 767 618 764.1 617.3 763 616.8 761 616.9 760 617.2 759 617.7 758 619 756.7 621.8 755 622.8 754 627 746 628 744.8 632.3 741 635 739.4 636 739 637 738.9ZM741 753.3 743 753.1 745 753.8 746 754.6 747 755.9 747.8 758 747.9 759 747.8 761 747 763.3 746 764.6 745 765.4 743 766.1 741 765.9 740 765.5 739 764.8 737.6 763 737 761 736.8 759 737 758 737.7 756 739 754.4 740 753.7ZM768.5 775 769.4 776 769.9 777 770.2 779 771.3 782 771.3 784 771 785 769.9 787 769 787.9 767 789.2 764.7 791 763.8 792 763 792.5 762 792.9 758 794 755 794.1 753.9 794 753 793.6 752.2 793 749.9 789 750 788 751 787.2 754 787.3 758 786.4 758.3 786 758.6 784 758.5 783 759.3 780 760.5 778 760.7 777 761.3 776 762 775.1 763 774.4 764 774 766 773.8 767 774.1ZM739.3 780 740.1 781 740 782 740.3 785 740.5 786 740.4 788 740 789 739 790.2 732 796.9 731 797.6 728 798.8 727 799.1 725.8 799 725.4 798 725.8 797 727.9 794 731.2 785 731.7 784 733 782.7 736.4 781 738 780 739 779.9ZM818 795.7 818.4 796 818 797 817 797 817.4 796ZM599 800.3 600 800.2 601 800.6 601.9 802 602 804 601.7 805 601 805.9 600 805.8 599 805.3 597.9 804 597.6 803 597.6 802 598.1 801ZM781 800.2 782 800.1 783 800.4 784 801 784.9 802 785.5 803 786 805 785.9 807 785.1 809 784 810.2 783 810.8 782 811.1 781 811 780 810.7 779 810 778.1 809 777.6 808 777.2 806 777.4 804 778.3 802 779.2 801 780 800.5ZM722 801.9 722 803 721 805 720 805.3 718.9 805 718.4 804 718.6 803 719 802.5 721 801.8ZM604 811.3 606 811.6 608 812.4 609 813 610 813.9 610.8 815 611.5 817 611.6 819 611.5 820 610.6 822 609 823.8 608 824.3 607 824.6 605 824.5 604 824.1 603 823.4 601.9 822 601.1 820 600.9 818 601.3 816 603 812.3ZM644 815.7 644.6 815 646 814.5 647 814.4 649 814.9 650 815.5 651 816.6 651.4 818 651.2 819 650.5 820 649 820.9 647.3 821 646 820.6 645 819.8 644.4 819 644 818 643.8 817ZM719 819 720 818.5 721 819 720.5 820 720 820.3 719.3 820Z"/>
<path fill="#00ff00" fill-rule="evenodd" d="M691 125 692 126.2 693.1 130 693 131.1 692.7 132 692 133 682.4 140 681 140.2 680 139.9 679.1 139 678.8 138 678.8 137 679.4 136 688 126 689 125.2 690 124.8ZM876 264.3 877 265.2 877.6 267 877.9 273 878.2 274 880 276.2 881 277 882 277.4 883 277.4 885.1 277 888 275.9 889 275.9 890 276.4 890.6 277 891.2 278 891.3 279 889.9 283 888.8 289 888.4 290 887.2 292 886 293.2 879 298.9 871 305 870.1 306 869.8 307 870.1 308 870.7 309 875 313.8 882.4 321 885 324.3 886 325.2 887 325.6 888 325.3 889.3 324 890.5 322 891 320 892.2 304 892.3 293 892.7 291 893.9 289 895 288 899 285.2 902 283.4 903 283.3 904.1 284 904.4 285 904.3 286 904.6 288 904.6 294 902.3 305 902.2 314 903.9 321 905 324.1 906 325.2 907 325.3 910.3 323 913 321.9 916 321.5 922 321.7 923 321.6 923.9 321 923.9 318 924.2 316 925.3 313 926.1 310 927.8 306 928.6 295 928 285 931.2 273 931.8 272 935 268 936 267.1 937 266.6 938 266.7 939 267.5 939.8 269 941.1 274 942.5 286 940.6 295 938.4 308 936.5 316 936.2 319 936.5 321 937 321.6 937.8 322 942 323 943.9 324 945 325 945 335.8 943.5 337 942 337.8 932 340.1 915 341.7 910 344.1 908 345.4 906 347.1 904 349.5 902 352.6 900.2 356 898.8 361 898.2 369 897.6 371 896.4 373 896.6 375 897 376 898 376.6 899 376.6 900 376.1 902.2 374 904 372.7 905 372.2 907 371.6 908 371.5 910 371.6 912 372.3 914 373.5 916 375.4 917.2 377 918.3 379 919.4 382 919.8 384 919.8 386 918.8 391 918.9 394 920 399 921 401.1 922 402.6 923 403.6 924 404.2 928 404.9 930 405.7 937 410 943 412.3 945 413.4 945 429.8 943 430.9 938 432.7 934 434.9 932 436.5 929.9 439 928 440.8 923.6 443 920.6 445 919.7 446 919 446.5 918 446.7 917 446.6 916 446 915.4 445 915.3 444 916 442 916.5 437 916.4 436 912.3 424 910.6 417 909.5 410 908.1 403 907 399.1 906 397 902 396.6 893 396.7 891 397 889 397.7 887 398.8 885.8 400 884 401 883 401.1 882 401 881 400.6 880.1 400 879.5 399 879.4 398 879.9 395 879.7 391 880.5 386 881.3 383 882 376 882.1 373 881.8 372 880.7 370 878.5 362 872.8 348 871 344.9 870 343.7 869 343.3 868 343.5 863 345.7 862 345.8 852 344 851 343.4 850.3 342 850.4 341 851 339.9 852 339.4 859 338 860 337.3 860.2 337 860 336 854.2 318 853.1 314 852 311.7 851 310.7 850 311.3 848 313.2 846 314.3 844 314.8 842.5 316 842 316.2 841 316.3 840 316 839 315 838.4 313 837 311.5 836.2 310 835.6 308 835.5 306 835.2 305 834.6 304 833 302 831 300.4 829 298.1 825 294.6 824.6 294 824.3 293 824.3 292 825 290.4 826 289.6 827 289.3 829 289.5 833 289.4 835 289 836 289 838 289.5 839 289.5 843 288.5 845 288.3 847 288.5 849 289.3 851 291 851.7 292 852.5 294 853.8 299 854.3 300 855 300.5 856 300.8 859 300.8 861 300.6 862 300.2 863.6 299 865.3 297 867.1 294 870.2 290 871.8 287 872 286 870.7 283 869.5 276 869.6 274 873.3 266 874 265.2 875 264.6ZM897.1 414 898 415.1 898.3 416 898.3 417 897.8 418 885 431.6 884 432.1 883 432.1 882 431.8 881.1 431 880.6 430 880.5 429 881 427.5 891 416.7 894 413.8 895 413.5 896 413.5ZM862 441 861.7 440 862 439 862.8 438 864 437.1 866 436.4 867 436.4 868 436.6 868.7 437 869 438 868.7 439 867.9 440 866 441.2 864 441.6 863 441.5ZM674 690 675 689.7 676 689.8 677 690.1 681 693.6 681.8 695 685 703.1 692.4 711 693.1 712 693.7 714 694.5 723 698.4 730 699 732 698.9 734 697.9 737 697.8 738 698.1 741 697.6 742 697 742.2 696 742.2 693 741 691.1 739 689 737.8 688.1 737 686.8 735 686.3 733 686.6 725 682.6 717 678.6 707 673 699.6 672.2 698 672 697 672 695 671.7 694 671.7 693 672 692 672.6 691ZM637 740.7 637.6 742 637.8 744 637.6 745 635.6 750 633.6 754 633.4 755 633.8 756 636 757.2 637 758 637.6 759 637.8 760 637.6 761 636.7 762 635 763.1 631 763.7 629 764.2 627 765 625 766.4 624 766.6 620 764.8 619 764 618.2 763 617.8 762 617.6 761 617.7 760 618 759 618.7 758 620 757 622 755.9 623 755 624.3 753 628 745.8 633 741.5 635 740.6 636 740.4ZM698.9 743 700 743.1 702 744.2 711 751.3 711.8 752 713.1 754 713.2 755 712 755.5 710 755.4 709 755.1 699.9 748 698.9 747 698.3 745 698.2 744ZM742 753.9 743 753.9 744 754.2 745.3 755 746.2 756 746.7 757 747.2 759 747.1 761 746.3 763 745 764.4 744 765 743 765.3 742 765.3 741 765.1 739.3 764 738.5 763 738 762 737.5 760 737.7 758 738.6 756 740 754.6 741 754.1ZM715.5 756 717 755.8 719 756.1 720 756.6 720.7 758 720.7 759 720 759.5 719 759.9 718 759.8 716 758 715.3 757ZM640.6 761 642 760.4 643 760.4 649 762.7 655 765.3 656 766.3 659.6 772 660.1 773 660 774 659 775.2 658 775.4 657 775.2 650.3 772 641 764 640.4 763 640.3 762ZM624 768.5 624.6 770 624.7 771 624 776 621.8 781 619 786 618 787 617 787.7 615 788.3 611 788.8 610 788.6 608.9 788 608 787 607.4 786 607.2 785 607.7 781 608.3 779 609 778 613 774.4 618 770.7 622 768.5 623 768.3ZM768 775.5 769.1 777 769.4 778 769.5 779 770.4 781 770.7 782 770.6 784 770.4 785 769.1 787 764 790.6 763 791.6 762 792.1 755 793.2 754 793.1 753 792.6 752.5 792 751.9 790 752.1 789 754 788.2 758.6 787 759 786 759.2 784 759.1 783 759.9 780 761 778.5 761.6 777 762.2 776 763.5 775 765 774.5 766 774.6 767 774.9ZM738.6 782 739.3 783 739.9 786 739.9 787 739.7 788 739.2 789 734 794 731 796.5 729 797.1 728.2 797 728 796 731.9 785 732.5 784 734 782.8 737 781.7 738 781.6ZM781 800.9 782 800.9 783 801.2 784 801.9 784.8 803 785.4 805 785.3 807 784.9 808 784 809.3 783 810 782 810.3 781 810.3 780 809.9 779 809.1 778.3 808 777.8 806 778 804 778.4 803 779.1 802 780 801.3ZM599 801.5 600 801.2 600.9 802 601.1 803 600.8 804 600 804.5 599 804.1 598.5 803 598.6 802ZM605 812.3 607 812.6 609 813.7 610.2 815 611 817 611.1 819 610.6 821 610 822 609 823.1 608 823.7 607 824 606 824.1 605 823.9 603.5 823 602.5 822 602 821 601.4 819 601.5 817 602.3 815 603 813.7 604 812.6ZM645 817 645.6 816 646 815.7 647 815.5 648 815.6 649 815.9 650.1 817 650.3 818 650 819 649 819.9 648 820.1 647 820 645.6 819 645.1 818Z"/>
<path fill="#00cc00" fill-rule="evenodd" d="M874 271.8 875 272.3 875.5 274 879 277.6 880 278.3 882 278.8 887 278.5 888.1 279 888.6 280 888.6 281 887.9 287 886.6 290 885 292 878 297.3 869 303.7 868.1 305 867.9 306 868.1 307 868.6 308 870.1 310 874.7 315 881.9 322 884 325.1 886 327.4 887 328 888 328 889 327.7 890 327 891.7 325 892.6 323 893.4 319 893.6 315 894.8 304 894.4 298 894.4 292 895 290.7 896 289.6 899 288.1 900 287.8 901 287.9 902 288.9 902.9 293 902 297.1 899.8 305 899.9 315 902.2 323 903.3 326 904 327.2 905 327.8 906 327.9 908 327.7 909 326.9 910.3 325 912 323.7 913 323.3 915 322.8 918 322.7 920 322.8 923 323.5 925 324.2 929 326.2 930 326.4 933 326.3 939 325.4 940 325.5 941.5 326 942.9 327 943.6 328 944 329 944.2 331 943.9 332 943.4 333 942.6 334 941 335 931 337.2 915 338.8 914 339 911 340.4 908 342.7 906 344.9 903 349.2 900.7 353 899.1 356 897.7 361 897.1 365 896.8 369 895.9 371 894.5 373 894.1 376 894.1 377 894.6 378 896 379.1 898 379.9 899 379.9 900 379.4 903.8 375 905.1 374 907 373.2 909 373 911 373.3 913 374.2 914 374.9 915.2 376 916.7 378 917.8 380 918.4 382 918.6 384 918.4 386 916.4 392 916.4 394 917.8 400 919.2 403 920.5 405 921.5 406 923 406.8 924 407.1 928 407.4 930 408 932 409.1 938 412.7 943 414.7 945 416.3 945 427 943 428.5 937 430.8 932 433.6 930 435.1 927 438.5 926 439.2 925 439.7 922 440.2 921 440.2 920 439.5 919.7 439 918.4 435 916.4 430 914 423 912.4 416 911.6 409 910.3 402 908.8 396 908.1 395 903 393.6 894 391.9 892 392 891 392.2 887 394.1 886 394.2 885 394 884 393.1 883.7 392 883.5 390 883.7 387 884.2 384 884.2 376 883.9 373 883.5 372 882.3 370 880 362 876.3 354 873.9 348 871 343.2 870 342.2 869 342.1 864 343.6 863 344 862 344.2 857.4 343 855.9 342 856.2 341 858.4 340 860 339.6 861 338.1 861.4 337 858.6 329 854.8 317 854.3 314 853.1 311 852.8 308 852 306.2 851 305.9 850 306.4 849.5 307 848.2 310 847.4 311 846 312 845 312.4 843 312.7 842 312.5 840.7 312 839.3 311 838.5 310 838 309 837.5 306 836.4 303 834 299.4 832.5 298 830.9 295 830.9 294 832 293 834.8 292 836 292 837 292.2 840 291.8 843 290.8 845 290.8 846 290.9 848 291.7 849 292.3 850.5 294 851.1 295 851.8 297 852.6 301 853 302.1 854 302.5 857 302 861 301.8 863.8 301 865.2 300 867 298 868.8 295 871.8 291 873.6 287 873.6 286 872.5 283 872.3 282 871.6 275 872 273.8 873 272.6ZM937 271.3 938 272.2 939.1 274 940.3 280 941.1 286 940 290.8 938.8 295 937 303.2 933.6 316 932.9 319 932 320.5 931 321.1 930 321.3 929 321.1 928 320.4 927 319 926.8 318 927 316.7 930.6 307 930.7 306 930.6 295 929.9 290 929.6 285 931 279.9 933 273.9 934 272.5 936 271.3ZM675 691.5 676 691.6 677.9 693 679 693.6 680 694.6 683.5 704 687 707.1 691.8 712 692.4 713 692.6 714 693.1 723 693.5 724 697.2 730 697.9 732 697.8 734 697.4 735 696 737.8 695 739.2 693 738.6 690 737.2 689 736.4 688 735 687.4 733 688.1 725 687.7 724 686 721.1 683.4 716 681.6 711 680.4 707 680 706 674.3 699 673.7 698 673.5 697 673.6 695 673.5 693 674 692ZM635 743.2 635.5 744 635.3 745 634 750 631.6 754 630.9 756 631.2 757 632 757.9 633 758.4 635 759 635.3 760 635 760.8 634 761.3 632 761.5 629 762.5 625 764 623 764 621 763.4 620.4 763 619.6 762 619.3 761 619.4 760 620 759 623.3 757 624.4 756 625.2 755 629 746.9 633 744 634 743.4ZM742 755.6 743 755.6 744 756 745.1 757 745.8 759 745.6 761 745.2 762 744 763.2 743 763.6 742 763.6 740.5 763 739.6 762 739.1 761 738.9 760 739.2 758 739.7 757 741 755.9ZM645.3 764 646 763.8 647.4 764 654 766.2 654.9 767 656.4 770 656.7 771 656.5 772 656 772.3 655 772.3 652 771.4 651 770.8 647.9 768 646 766 645.3 765ZM622 771.4 622.5 772 622.8 773 622.9 775 620.8 781 618.7 785 618 785.9 617 786.7 615 787.5 611 787.8 610 787.5 609.3 787 608.5 786 608.2 785 608.4 783 608.4 782 608.7 780 610 778.1 614 774.8 618.6 772 621 771.3ZM766 776.2 767.3 777 767.8 778 767.9 779 769.2 781 769.5 782 769.5 784 769 785.2 768 786.4 764 788.9 762 789.6 761 789.2 760.8 789 760.3 787 760.3 783 760.8 781 761.3 780 762.3 779 763.4 777 764 776.5 765 776.1ZM737 783.9 738 784.8 738.5 786 738.6 787 738.3 788 737.4 789 734 791.7 733 792.3 732 792.4 731.7 792 731.8 790 732.9 786 733.4 785 734 784.4 735 783.9 736 783.7ZM781 802.4 782 802.4 783 802.8 783.9 804 784.2 805 784.2 806 784 807 783 808.4 782 808.8 781 808.8 780 808.2 779.2 807 779 806 779 805 779.3 804 780 803ZM605 813.7 606 813.5 607 813.7 608 814.2 609 815 610 817 610.2 819 609.5 821 608.7 822 608 822.5 607 822.9 606 823 605 822.8 604 822.2 603 821 602.6 820 602.3 818 602.8 816 604 814.3Z"/>
<path fill="#009900" fill-rule="evenodd" d="M936 276.1 937 276.7 938 278.5 939 282 939.7 285 939.7 286 938 291.6 937 293.9 936.3 295 935 297.6 934 297.8 932 291.8 930.9 286 931 285 933 279.4 934 277.5 935 276.4ZM886 280.7 886.3 281 886.8 282 887 285 886.8 286 886.2 288 885 290 884 291 879 294.2 874 297 873 297.3 872 297.4 871.6 297 871.7 296 873.5 292 874.1 290 875.2 287 875.2 286 874.1 282 874.4 280 875 278.4 876 278.3 879 279.8 885 280.3ZM899 291.1 900 291.6 900.3 292 900.6 293 900 294.8 899 296.6 898 297 897 295 896.7 293 897 291.9 898 291.2ZM844 292.8 845.7 293 847 293.5 848 294.1 849 295.1 850 296.9 850.3 298 850.6 301 850 303 847.5 306 846.8 307 846 309 844.7 310 843 310.3 842 310 841 309.3 840.2 308 839.7 306 838.2 302 836.8 299 836.5 297 836.9 296 838 295 842 293.1ZM855 304 857 303.1 861 302.8 863.7 303 865 303.6 867.4 308 868.9 310 874 315.6 881 322.3 885 328.1 886 329.1 887 329.7 888 329.9 889 329.7 892 329 893 328.4 893.5 328 896 322.5 897 321.1 898 321.3 899 322.6 900.3 325 900.6 326 900.6 327 899.9 330 900 330.2 901 330.5 904 329.6 906 329.4 908 329.6 910 330.2 911 330.3 911.2 330 911.2 327 911.7 326 913 324.8 914.8 324 916 323.8 919 323.8 922 324.5 924 325.6 925.5 327 926.5 329 926.6 330 926.6 331 925.9 332 924 333 921 333.6 918 333.7 913.8 333 912.7 335 911.9 336 909 339 907 341.5 900 352.5 898.7 355 897.9 357 896.7 361 896.1 364 895.6 369 894.5 371 892.6 373 891 377 890.7 379 890.9 380 891.7 381 893 381.6 895 382.2 898 383.5 899 383.6 900 383.3 901 382.2 903.1 378 904.8 376 906 375.1 907 374.6 909 374.2 911 374.5 913 375.4 914.9 377 916.3 379 917.1 381 917.5 384 917.1 386 916.7 387 914 391.4 913 392.6 912 393.1 907 391.9 898 388.4 891 386.7 889.7 386 889 385.2 887.5 379 887.1 378 885.8 373 883.5 370 880.6 361 877.3 354 874.8 348 871 341.6 870 340.8 865 341.9 864 342 863 341.8 862.1 341 861.9 340 862.4 338 862.4 337 859.5 329 855.7 317 855.2 314 853.9 310 854.1 306 854.3 305ZM915 403.8 916 404.4 918.3 407 919.4 408 921 409 923 409.5 928 409.6 930 410.1 932 411.1 938 414.9 942.4 417 943.5 418 944.3 419 944.9 421 944.8 423 944 424.7 943 425.8 942 426.5 938 428.1 935 429.7 929.2 433 925 436.1 924 436.5 923 436.4 922 435.7 920 433 918.4 430 916.4 425 915.6 422 914.4 415 914.3 407 914.5 405ZM676 695 677 694.7 678 695 678.8 696 679.3 698 679.6 700 679 700.8 678 700.2 676 698.3 675.2 697 675.3 696ZM683 707.5 684 707.2 686 708.2 690.4 712 691.2 713 691.5 714 691.7 719 691.5 721 691 723 690 723.4 689 722.8 687 720.2 685 716.8 683.9 714 683 711 682.7 709ZM691 724.4 692 724.8 693 725.8 696 730.2 696.8 732 696.8 733 696.6 734 696.2 735 695 736.4 694 737 693 737 691 736.5 690 735.9 689.2 735 688.7 734 688.5 733 688.5 732 689.3 727 690 725ZM631 748.1 632 749 631 749.6 630.8 749ZM628.2 759 628.1 760 626.8 761 624 761.7 623 761.3 622.7 761 623.1 760 624.2 759 626 757.9 627 757.8ZM742 757.6 743 757.7 743.4 758 744.1 759 744 760.3 743.6 761 743 761.5 742 761.6 741.2 761 740.7 760 740.8 759 741 758.4ZM652.6 768 653 768 653.3 769 653 769.3 652 769 652 768.6ZM621 773.9 621.2 775 621 777 620.6 779 619.4 782 617.9 785 616.9 786 615 786.8 614 786.9 611 786.7 610 786.3 609.3 785 609.1 782 609.5 780 610.1 779 613 776.6 616 774.7 617 774.2 620 773.4ZM765 779.1 766 779.3 767.9 781 768.4 782 768.5 783 768.3 784 767.8 785 767 785.8 764 787.1 763 787.2 762 786.3 761.4 783 762 780.9 763 779.9 764 779.3ZM734.9 786 736 785.7 736.5 786 736.7 787 736 787.6 735 787.6 734.7 787ZM781 804.7 782 804.5 782.4 805 782.4 806 782 806.7 781 806.5 780.7 806 780.8 805ZM606 814.7 607 814.8 608 815.4 609 816.8 609.3 818 609.3 819 609 820 608.3 821 607 821.9 606 822 605 821.6 604 820.8 603.3 819 603.2 818 603.4 817 604 815.9 605 814.9Z"/>
<path fill="#ffff00" fill-rule="evenodd" d="M884.5 282 885.4 283 885.7 284 885.7 285 885.1 287 884 289 883 290 880 291.4 878 292 877 291.7 876.5 291 876.4 290 876.9 287 876.9 284 877.2 283 878 282.3 878.8 282 882 281.5 883 281.5ZM936 281.5 937 282.7 938 285 938.1 286 937 288.5 936 289.9 935 290.3 934 289.6 932.6 286 932.6 285 934 282.5 935 281.5ZM844 295 845 295.1 846 295.5 847 296.1 847.7 297 848.2 298 848.5 300 848 302 847.2 303 845 304.5 844 304.9 843 304.8 842 304.1 840.7 302 839.5 299 840 297.4 841 296.1 842 295.5ZM857 304.7 859 304 861 303.7 863 304.2 864 304.9 867 309 873.2 316 880.5 323 884.6 329 886 330.5 886.8 331 888 331.3 891 331.1 893 331.3 894 331.6 897 333.5 898 333.8 899 333.7 901 333.2 905 331.1 906 330.9 907 331 908 331.4 908.8 332 909.4 333 909.6 334 909.5 335 907 339.1 902.8 347 899.5 352 897.8 355 896.2 360 895.4 363 894.8 366 894.7 368 894.4 369 893.9 370 893.1 371 891 372.4 890 372.8 889 372.8 888 372.6 886 371.3 884.8 370 884.3 369 881.6 361 875.1 347 872.5 343 871 339.7 870 339.1 868 340.2 867 340.4 866 340.4 864.4 340 864 339.5 863.8 338 860.3 329 858.3 322 856.6 317 856 313.6 854.8 310 854.9 308 855.2 307 856 305.5ZM913.4 327 914 326 915.9 325 917 324.9 919 324.9 920 325.1 921.9 326 922.9 327 923.3 328 923.1 329 922 330.1 920 330.7 918 330.8 916 330.3 915 329.8 914 329 913.4 328ZM908 375.6 909 375.5 911 375.7 913 376.6 914 377.5 915.2 379 916 380.6 916.4 382 916.4 384 916.2 385 915.1 387 914 388.3 913 389 912 389.5 911 389.8 910 389.9 908 389.6 906 388.7 905 388 904.1 387 903.5 386 903.2 385 903.2 382 903.7 380 904.1 379 905.6 377 907 376ZM917.3 414 918 412.9 919 412.3 920 412.1 927 411.6 930 412.2 933 413.8 938 417.5 940.3 419 941.3 420 941.8 421 941.9 422 941.5 423 940.6 424 932 429.3 926 432.1 924 432.4 923 432.1 921.6 431 920 429 919 427 917.9 424 917.1 421 916.8 418 916.8 416ZM686 710.8 687 711.1 689.8 713 690.3 714 690.4 715 690 718.1 689 719.1 688 718.6 685.9 716 685.5 715 685.2 712 685.7 711ZM692 727.8 693 728.4 695.2 731 695.6 732 695.7 733 695.4 734 695 734.6 694 735.4 693 735.7 692 735.6 690.7 735 689.9 734 689.6 733 689.7 732 690.6 729 691 728.2ZM619 775.6 619.4 776 619.8 777 619.6 779 619 781 617.8 784 617.1 785 616 785.8 615 786.2 614 786.3 612.5 786 611 785.1 610.2 784 609.8 783 609.7 782 609.8 781 610.2 780 610.9 779 614 776.8 616 775.8 618 775.3ZM764 780.9 765 780.7 766 780.9 767 782 767.2 783 767 783.8 766 784.9 765 785.2 764 785 762.9 784 762.7 783 763 782ZM606 815.9 607 816.1 608 817 608.3 818 608.2 819 607.8 820 607 820.6 606 820.8 604.8 820 604.3 819 604.2 818 604.6 817 605 816.4Z"/>
<path fill="#ffcc00" fill-rule="evenodd" d="M858.5 306 860 305.5 861 305.6 862 305.9 863 306.8 866.4 311 871.8 317 879.3 324 883.4 330 885 331.9 886 332.7 888 333.7 891 333.9 892 334.1 893.5 335 895 336.4 896 336.6 900 335.7 902 335.7 903.5 336 904 336.4 904.4 337 904.6 339 904.2 341 902.1 346 897.8 352 896.8 354 893.2 364 892.3 368 891.7 369 891 369.6 890 370.1 889 370.1 888 369.8 886.9 369 886.4 368 883.4 361 876.6 347 873.2 342 872.6 340 872 337 871.7 336 870.3 330 867 325.7 866 324.7 865 324.2 864.7 325 865.2 327 865.2 330 865 331.9 864 331.4 863 329.8 862.1 328 861.4 324 860.5 321 858.3 316 857.8 313 856.5 310 856.5 309 856.7 308 857.2 307ZM907.5 379 909 378.1 910 378 911 378.2 912 378.7 913 379.6 913.8 381 914 382 914 383 913.7 384 913 385.1 912 385.8 911 386.2 910 386.2 908.9 386 907.4 385 906.7 384 906.3 383 906.2 382 906.3 381 906.7 380ZM921.9 419 923 417.7 924 417 925 416.6 927 416.3 929 416.5 931 417.3 931.9 418 932.7 419 933.2 420 933.4 421 933.4 422 933.1 423 932.4 424 931.4 425 930 425.9 927 426.8 925 426.7 924 426.3 923 425.5 922 424 921.5 422 921.5 421ZM616 778.2 617 778.6 617.3 779 617.4 780 616.8 783 616 784.2 615 784.8 614 785 613 784.8 612 784.2 611.2 783 611 782 611.2 781 612 779.8 613 779.2 615 778.3Z"/>
<path fill="#ff6600" fill-rule="evenodd" d="M860 308 861 308.5 870 318 877.9 325 883.2 332 886.6 335 887.4 336 887.8 337 888.3 339 888.3 341 889 344.2 890 346.2 891 346.8 892 346.3 893 344.5 894 341.7 895 340.6 896 339.9 898.1 338 899 337.6 900 337.5 901 337.6 902 338.2 902.5 339 902.7 340 902.5 341 901 345.6 896.7 351 895.2 354 894 358.2 893.3 360 892 362.2 891 363.5 890 364.5 889 364.8 888 364.5 887 363.6 886 362.3 884.1 359 877.4 346 874.3 342 873.6 340 873.4 337 871.8 329 866.9 321 864 317.5 861.5 315 861 314.2 860.2 312 859 309.6 859 308.8ZM613.1 781 614 780.7 615 781.1 615.3 782 614.9 783 614 783.3 613 782.9 612.7 782Z"/>
<path fill="#ff0000" fill-rule="evenodd" d="M875 326.5 876 326.9 878 328.3 882.5 333 885 335 886.2 337 887 342 887.9 346 888.6 348 889 348.7 890 349.8 891 350.2 893 350.4 893.5 351 893.5 353 892.6 358 892 359.5 891 360.6 890 361.2 889 361.4 888 361.1 886.6 360 885.4 358 883.6 354 878.9 346 876 342.8 874.8 341 874.4 339 874.5 336 874.3 335 874 331 874 329.8 874.4 328 874.3 327ZM900 340.8 900.2 344 900 345 899 346.3 897 348.1 896 348.7 895 349.1 894.8 349 894.1 348 894.3 346 895 342.9 896 341.8 898 340.8 899 340.5Z"/>
<path fill="#cc3300" fill-rule="evenodd" d="M878 333.6 881 334.2 882.9 335 884 336 884.6 337 884.8 338 884.7 345 884.6 346 884 347 883 346.8 881 345 877.1 342 876.4 341 876 340.2 875.8 339 876 337.3 877.5 334Z"/>
<path fill="#990000" fill-rule="evenodd" d="M879 336 880 335.7 881 335.8 882 336.3 882.7 337 883.2 338 883.3 339 883 340.1 882 341.4 881 341.8 879 341.4 878.3 341 877.6 340 877.3 339 877.4 338 877.8 337Z"/>
<path fill="#ff00ff" fill-rule="evenodd" d="M878.9 338 880 337.2 881 337.4 881.6 338 881.8 339 881 340.1 880 340.2 879 339.5 878.8 339Z"/>
</g>
<g class="g">
<path class="gv" d="M301.2 79.6 V820.5" stroke-dashoffset="4.236"/>
<path class="gv" d="M359.0 79.6 V820.5" stroke-dashoffset="4.236"/>
<path class="gv" d="M416.8 79.6 V820.5" stroke-dashoffset="4.236"/>
<path class="gv" d="M474.6 79.6 V820.5" stroke-dashoffset="4.236"/>
<path class="gv" d="M532.4 79.6 V820.5" stroke-dashoffset="4.236"/>
<path class="gv" d="M590.2 79.6 V820.5" stroke-dashoffset="4.236"/>
<path class="gv" d="M648.0 79.6 V820.5" stroke-dashoffset="4.236"/>
<path class="gv" d="M705.8 79.6 V820.5" stroke-dashoffset="4.236"/>
<path class="gv" d="M763.6 79.6 V820.5" stroke-dashoffset="4.236"/>
<path class="gv" d="M821.4 79.6 V820.5" stroke-dashoffset="4.236"/>
<path class="gv" d="M879.2 79.6 V820.5" stroke-dashoffset="4.236"/>
<path class="gh" d="M262.5 798.0 H937.4" stroke-dashoffset="0.98"/>
<path class="gh" d="M262.5 730.6 H937.4" stroke-dashoffset="0.98"/>
<path class="gh" d="M262.5 663.3 H937.4" stroke-dashoffset="0.98"/>
<path class="gh" d="M262.5 595.9 H937.4" stroke-dashoffset="0.98"/>
<path class="gh" d="M262.5 528.5 H937.4" stroke-dashoffset="0.98"/>
<path class="gh" d="M262.5 461.1 H937.4" stroke-dashoffset="0.98"/>
<path class="gh" d="M262.5 393.8 H937.4" stroke-dashoffset="0.98"/>
<path class="gh" d="M262.5 326.4 H937.4" stroke-dashoffset="0.98"/>
<path class="gh" d="M262.5 259.0 H937.4" stroke-dashoffset="0.98"/>
<path class="gh" d="M262.5 191.7 H937.4" stroke-dashoffset="0.98"/>
<path class="gh" d="M262.5 124.3 H937.4" stroke-dashoffset="0.98"/>
</g>
<g class="m" clip-path="url(#cp)">
<path d="M278 78.5 287.5 95 295 102 300 112 304 122 322 129.5 325.5 139 318 135.8 311.2 141.8 318 148.2 322.5 155.5 318 163 307.5 161.2 298.8 165.5 291.2 160 278 171.2 295 179.5 308.8 191.5 318.8 189.5 325.5 196.2 327 205 327.5 221.2 324.5 233 332.5 229.5 329.5 238.8 321.2 242.5 313.8 248.8 304.5 251.2 300.5 261.2 305.5 271.2 300 278.8 293.8 283.8 288 293 292.5 300"/>
<path d="M322 129.5 325.5 120 331.2 111.2 335 101.2 344.5 99.5 358.8 112 367.5 116.2 387.5 120.5 473.2 159.5 481.2 155.5 495 145 503.8 140.5 511.2 133.8 519.5 130 526.2 135.5 538 135.5 547 142.5 553.8 146.2 560 153"/>
<path d="M326.2 78.5 332.5 85.5 348.8 93 355 102 372.5 110 392 113.8 400 117.5 408.8 123.8 420 125.5 430 125.5 440 127.5 457.5 135.5 470 135.5 478.8 139.5 488.8 137.5 494.5 133 498.8 122.5 497.5 110 499.5 98 496.2 87.5 490.5 78.5"/>
<path d="M450.5 101.2 456.2 110 447.5 113.2 450.5 101.2"/>
<path d="M560 153 569.5 157.5 579.5 147.5 587 165 605.5 173.2 608.8 185 610.8 195.5 622 195.5 631.2 199.2 639.5 195.5 646.2 199.2 662 211.2 672.5 209.5 681.2 205 689.2 199.2 700 196.7 708.3 192.5 715 187.1 713.3 175 712.1 163.3"/>
<path d="M673.8 78.5 675.5 97.5 678.8 112.5 683.8 127.5 690 138.8 697 150 699.2 152.5 702.9 163.3 710 162.1 713.3 161.7 717.5 163.8 722.1 171.7 725 180 728.8 191.7 723.8 183.8 724.2 196.7 721.7 205 720 207 728.8 203.8 733.8 211.2 735.5 222.5 741.2 240 746.2 250 752.5 265 758.8 278.8 766.2 291.2 772.5 299.5 785 317.5 792.5 325 800 337.5 810 353.8 817.5 365 825 371.2 835 369.5 838.8 379.5 839.2 380 869.2 427 877.5 430.8 879.2 435.8 885.8 448.3 894.2 452.5 915.8 457 920.8 465 939.2 479.7"/>
<path d="M292.5 300 291.2 313.8 293.2 325 298.8 335 305 352.5 331.2 393.8 348 401.2 360 401.2 380 405 388.8 408.8 403 421.2 428.8 461.2 437.5 465 444.5 445.5 452.5 441.2 454.5 429.5 465 431.2 474.5 416.2 481.8 409.2 472 411.2 468.8 398.8 468 385.5 456.2 385 448.8 378.8 438 376.2 430.5 373 420 357 411.2 351.2 408.8 332.5 406.2 315.5 399.5 309.5 407 315.5 416.2 331.2 425 335.5 435.5 333.2 440.5 341.2 451.2 343.8 456.2 351.2 465 355.5 471.2 363.8 480 369.5 487.5 373 497 374.5 488.8 379.5 498.8 377.5 506.2 383.8 508 395 514.5 401.2 525 417 525 431.2 520 438.8 518 451.2 524.5 457.5 530 465 537 471.2 543.8 478.8 553 477 560 478.2 572.5 483.2 591.2 486.8 610 495 620.8 510.8 630 513 646.2 520.8 658.8 525 672.5 537.5 677.5 545 685 548.8 692.5 555 698.8 563 705 568.8 710.5 578.8 717.5 585 722.5 592.5 725.5 603 722.5 612.5 723.8 625 728.8 633 722.5 637.5 717 646.8 727 644.5 718.8 648 717 661.2 703.8 673 699.5 682.5 707 695.8 722.5 708.8 728.8 718.2 737.5 722.5 748.8 720.5 783.8 736.8 788.8 730 788.8 715 786.2 705 781.2 696.2 763.8 688.8 757.5 679.5 751.2 660.5 773 656.2 783.8 673 801.2 680.5 810.8 682.5 818 688.3 805.8 689.2 810.8 696.7 821.3 698.7 813 702.5 818 710.8 821.3 723.3 816.7 730 814.5 742.5 828.3 754.7 835.8 758.3 843.3 765.8 853.7 780 860.3 799.2 860.3 814.2 867.5 814.2 869.5 802.5 865.8 791.7 865.3 779.2 867.5 765.8 872.5 758.3 890 750.8 900 748.3 920.8 752.5 928.3 756.7 939.2 758.7"/>
<path d="M422.5 343.8 432.5 345.8 437.5 353 427.5 355.5 420.5 349.5 422.5 343.8"/>
<path d="M920.8 465 925 469.2 920.8 470.8 917.5 480.3 908.7 485 895 473.3 890 465 880.8 461.3 871.3 463 865.8 471.3 872.5 482.5 873 485 867.5 485 859.7 488.7 853.8 497.5 853.8 525 853.8 580.8 855.3 582.8 865 584.5 874.2 588.7 880.8 596.7 890 600.8 895 609.2 892.5 618.7 884.2 625 867.5 633 864.7 642.5 857.5 648.8 860 658.3 870.8 675 874.7 698.3 874.7 713.3 869.2 720.8 862 726.7 852.2 728.7 847.5 735.8 840 742.5 831.7 746.7 846.7 761.7 854.2 765 855.8 775 862.5 798.3 862.5 814.2"/>
</g>
<rect class="k" x="262.5" y="79.6" width="674.9" height="740.9"/>
<path class="k" d="M301.2 820.5v5M359.0 820.5v5M416.8 820.5v5M474.6 820.5v5M532.4 820.5v5M590.2 820.5v5M648.0 820.5v5M705.8 820.5v5M763.6 820.5v5M821.4 820.5v5M879.2 820.5v5M262.5 798.0h-5.5M262.5 730.6h-5.5M262.5 663.3h-5.5M262.5 595.9h-5.5M262.5 528.5h-5.5M262.5 461.1h-5.5M262.5 393.8h-5.5M262.5 326.4h-5.5M262.5 259.0h-5.5M262.5 191.7h-5.5M262.5 124.3h-5.5"/>
<text class="a" x="301.2" y="841" text-anchor="middle" textLength="43.3" lengthAdjust="spacingAndGlyphs">85.8W</text>
<text class="a" x="359.0" y="841" text-anchor="middle" textLength="43.3" lengthAdjust="spacingAndGlyphs">85.5W</text>
<text class="a" x="416.8" y="841" text-anchor="middle" textLength="43.3" lengthAdjust="spacingAndGlyphs">85.2W</text>
<text class="a" x="474.6" y="841" text-anchor="middle" textLength="43.3" lengthAdjust="spacingAndGlyphs">84.9W</text>
<text class="a" x="532.4" y="841" text-anchor="middle" textLength="43.3" lengthAdjust="spacingAndGlyphs">84.6W</text>
<text class="a" x="590.2" y="841" text-anchor="middle" textLength="43.3" lengthAdjust="spacingAndGlyphs">84.3W</text>
<text class="a" x="648.0" y="841" text-anchor="middle" textLength="29.5" lengthAdjust="spacingAndGlyphs">84W</text>
<text class="a" x="705.8" y="841" text-anchor="middle" textLength="43.3" lengthAdjust="spacingAndGlyphs">83.7W</text>
<text class="a" x="763.6" y="841" text-anchor="middle" textLength="43.3" lengthAdjust="spacingAndGlyphs">83.4W</text>
<text class="a" x="821.4" y="841" text-anchor="middle" textLength="43.3" lengthAdjust="spacingAndGlyphs">83.1W</text>
<text class="a" x="879.2" y="841" text-anchor="middle" textLength="43.3" lengthAdjust="spacingAndGlyphs">82.8W</text>
<text class="a" x="252.0" y="804.2" text-anchor="end" textLength="33" lengthAdjust="spacingAndGlyphs">8.1N</text>
<text class="a" x="252.0" y="736.8" text-anchor="end" textLength="33" lengthAdjust="spacingAndGlyphs">8.4N</text>
<text class="a" x="252.0" y="669.5" text-anchor="end" textLength="33" lengthAdjust="spacingAndGlyphs">8.7N</text>
<text class="a" x="252.0" y="602.1" text-anchor="end" textLength="19.5" lengthAdjust="spacingAndGlyphs">9N</text>
<text class="a" x="252.0" y="534.7" text-anchor="end" textLength="33" lengthAdjust="spacingAndGlyphs">9.3N</text>
<text class="a" x="252.0" y="467.3" text-anchor="end" textLength="33" lengthAdjust="spacingAndGlyphs">9.6N</text>
<text class="a" x="252.0" y="400.0" text-anchor="end" textLength="33" lengthAdjust="spacingAndGlyphs">9.9N</text>
<text class="a" x="252.0" y="332.6" text-anchor="end" textLength="41.5" lengthAdjust="spacingAndGlyphs">10.2N</text>
<text class="a" x="252.0" y="265.2" text-anchor="end" textLength="41.5" lengthAdjust="spacingAndGlyphs">10.5N</text>
<text class="a" x="252.0" y="197.9" text-anchor="end" textLength="41.5" lengthAdjust="spacingAndGlyphs">10.8N</text>
<text class="a" x="252.0" y="130.5" text-anchor="end" textLength="41.5" lengthAdjust="spacingAndGlyphs">11.1N</text>
<text class="t" y="30.2"><tspan x="133.3" textLength="255.5" lengthAdjust="spacingAndGlyphs">IMN/SARAPIQUI_5</tspan> <tspan x="411.7" letter-spacing="0.65">Precipitacion</tspan> <tspan x="618.8" textLength="158.2" lengthAdjust="spacingAndGlyphs">Acumulada</tspan> <tspan x="798.0" textLength="31.0" lengthAdjust="spacingAndGlyphs">en</tspan> <tspan x="863.0" text-anchor="middle">6</tspan> <tspan x="887.5" textLength="79.2" lengthAdjust="spacingAndGlyphs">horas</tspan> <tspan x="987.5" letter-spacing="2.30">(mm)</tspan></text>
<text class="t" y="61.8"><tspan x="463.8">2</tspan><tspan x="484.1">0</tspan><tspan x="504.4">2</tspan><tspan x="524.7">6</tspan><tspan x="544.5" textLength="19.5" lengthAdjust="spacingAndGlyphs">-</tspan><tspan x="565.3">0</tspan><tspan x="585.6">3</tspan><tspan x="605.4" textLength="19.5" lengthAdjust="spacingAndGlyphs">-</tspan><tspan x="626.2">2</tspan><tspan x="646.5">9</tspan> <tspan x="686.0" textLength="50.7" lengthAdjust="spacingAndGlyphs">15Z</tspan></text>
<text class="f" y="876.6"><tspan x="329.3" letter-spacing="2.21">Instituto</tspan> <tspan x="447.5" letter-spacing="1.97">Meteorologico</tspan> <tspan x="637.3" letter-spacing="1.79">Nacional</tspan> <tspan x="759.5" letter-spacing="1.90">Costa</tspan> <tspan x="846.7" letter-spacing="1.20">Rica</tspan></text>
<g class="k" stroke-linejoin="miter">
<path d="M1058.2 132L1068.9 89.3L1079.6 132Z" fill="#aaaaaa"/>
<rect x="1058.2" y="132.00" width="21.4" height="42.38" fill="#f5f5f5"/>
<rect x="1058.2" y="174.38" width="21.4" height="42.38" fill="#9932cc"/>
<rect x="1058.2" y="216.76" width="21.4" height="42.38" fill="#ff00ff"/>
<rect x="1058.2" y="259.14" width="21.4" height="42.38" fill="#990000"/>
<rect x="1058.2" y="301.52" width="21.4" height="42.38" fill="#cc3300"/>
<rect x="1058.2" y="343.90" width="21.4" height="42.38" fill="#ff0000"/>
<rect x="1058.2" y="386.28" width="21.4" height="42.38" fill="#ff6600"/>
<rect x="1058.2" y="428.66" width="21.4" height="42.38" fill="#ffcc00"/>
<rect x="1058.2" y="471.04" width="21.4" height="42.38" fill="#ffff00"/>
<rect x="1058.2" y="513.42" width="21.4" height="42.38" fill="#009900"/>
<rect x="1058.2" y="555.80" width="21.4" height="42.38" fill="#00cc00"/>
<rect x="1058.2" y="598.18" width="21.4" height="42.38" fill="#00ff00"/>
<rect x="1058.2" y="640.56" width="21.4" height="42.38" fill="#0000ff"/>
<rect x="1058.2" y="682.94" width="21.4" height="42.38" fill="#3399ff"/>
<rect x="1058.2" y="725.32" width="21.4" height="42.38" fill="#66ffff"/>
<path d="M1058.2 767.7L1068.9 810.4L1079.6 767.7Z" fill="#ffffff"/>
</g>
<text class="c" x="1086.5" y="139.4" textLength="36.5" lengthAdjust="spacing">200</text>
<text class="c" x="1086.5" y="181.8" textLength="36.5" lengthAdjust="spacing">150</text>
<text class="c" x="1086.5" y="224.2" textLength="36.5" lengthAdjust="spacing">120</text>
<text class="c" x="1086.5" y="266.5" textLength="36.5" lengthAdjust="spacing">100</text>
<text class="c" x="1086.5" y="308.9" textLength="24" lengthAdjust="spacing">90</text>
<text class="c" x="1086.5" y="351.3" textLength="24" lengthAdjust="spacing">75</text>
<text class="c" x="1086.5" y="393.7" textLength="24" lengthAdjust="spacing">60</text>
<text class="c" x="1086.5" y="436.1" textLength="24" lengthAdjust="spacing">50</text>
<text class="c" x="1086.5" y="478.4" textLength="24" lengthAdjust="spacing">40</text>
<text class="c" x="1086.5" y="520.8" textLength="24" lengthAdjust="spacing">30</text>
<text class="c" x="1086.5" y="563.2" textLength="24" lengthAdjust="spacing">25</text>
<text class="c" x="1086.5" y="605.6" textLength="24" lengthAdjust="spacing">20</text>
<text class="c" x="1086.5" y="648.0" textLength="24" lengthAdjust="spacing">15</text>
<text class="c" x="1086.5" y="690.3" textLength="44" lengthAdjust="spacing">12.5</text>
<text class="c" x="1086.5" y="732.7" textLength="10.5" lengthAdjust="spacing">7</text>
<text class="c" x="1086.5" y="775.1" textLength="30" lengthAdjust="spacing">3.5</text>
</svg></body></html>
